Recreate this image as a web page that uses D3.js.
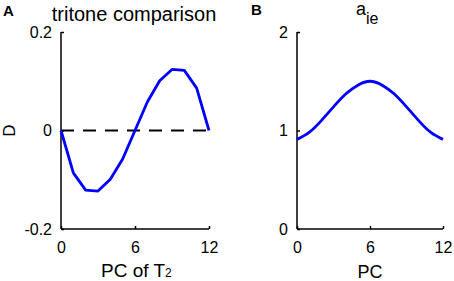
<!DOCTYPE html>
<html>
<head>
<meta charset="utf-8">
<script src="https://cdn.jsdelivr.net/npm/d3@7"></script>
<style>
  body { margin: 0; background: #fff; }
  svg { display: block; font-family: "Liberation Sans", Arial, sans-serif; }
  .axis path, .axis line { stroke: #000; stroke-width: 1.5; }
</style>
</head>
<body>
<div id="chart"></div>
<script>
// data
var pcSteps = [0, 1, 2, 3, 4, 5, 6, 7, 8, 9, 10, 11, 12];
var tritoneD = [0, -0.086, -0.121, -0.123, -0.099, -0.058, 0, 0.058, 0.101, 0.124, 0.122, 0.086, 0];
var aie = [0.91, 0.98, 1.10, 1.24, 1.37, 1.46, 1.5, 1.46, 1.37, 1.24, 1.10, 0.98, 0.91];
var xTicks = [0, 6, 12];
var yTicksA = [-0.2, 0, 0.2];
var yTicksB = [0, 1, 2];

var width = 454, height = 281;
var tickFont = "16px";

var svg = d3.select("#chart")
    .append("svg")
    .attr("width", width)
    .attr("height", height);

function styleAxis(g) {
    g.selectAll("text")
        .style("font-size", tickFont)
        .style("font-family", "Liberation Sans, Arial, sans-serif")
        .attr("fill", "#000");
}

// ---- panel A ----
var xA = d3.scaleLinear().domain([0, 12]).range([61, 209]);
var yA = d3.scaleLinear().domain([-0.2, 0.2]).range([229, 32]);

svg.append("g")
    .attr("class", "axis")
    .attr("transform", "translate(0,229)")
    .call(d3.axisBottom(xA).tickValues(xTicks).tickSizeInner(-3).tickSizeOuter(0).tickPadding(13))
    .call(g => g.select(".domain").attr("d", "M" + xA(0) + ",0H" + xA(12)))
    .call(styleAxis);

svg.append("g")
    .attr("class", "axis")
    .attr("transform", "translate(61,0)")
    .call(d3.axisLeft(yA).tickValues(yTicksA).tickSizeInner(-3).tickSizeOuter(0).tickPadding(9)
        .tickFormat(d => String(d)))
    .call(g => g.select(".domain").attr("d", "M0," + yA(-0.2) + "V" + yA(0.2)))
    .call(styleAxis);

// zero reference line
svg.append("line")
    .attr("x1", xA(0)).attr("x2", xA(12))
    .attr("y1", yA(0)).attr("y2", yA(0))
    .attr("stroke", "#000")
    .attr("stroke-width", 2)
    .attr("stroke-dasharray", "13,9");

svg.append("path")
    .datum(pcSteps)
    .attr("fill", "none")
    .attr("stroke", "#0000ff")
    .attr("stroke-width", 2.8)
    .attr("stroke-linejoin", "round")
    .attr("d", d3.line()
        .x(function (d, i) { return xA(d); })
        .y(function (d, i) { return yA(tritoneD[i]); }));

svg.append("text")
    .attr("x", 3).attr("y", 16)
    .style("font-size", "15px").style("font-weight", "bold")
    .text("A");

svg.append("text")
    .attr("x", 134).attr("y", 21)
    .attr("text-anchor", "middle")
    .style("font-size", "20px")
    .text("tritone comparison");

svg.append("text")
    .attr("transform", "translate(15," + yA(0) + ") rotate(-90)")
    .attr("text-anchor", "middle")
    .style("font-size", "17px")
    .text("D");

var xlabA = svg.append("text")
    .attr("x", 101).attr("y", 277)
    .style("font-size", "19px")
    .text("PC of T");
xlabA.append("tspan")
    .style("font-size", "12px")
    .text("2");

// ---- panel B ----
var xB = d3.scaleLinear().domain([0, 12]).range([297, 443]);
var yB = d3.scaleLinear().domain([0, 2]).range([229, 32]);

svg.append("g")
    .attr("class", "axis")
    .attr("transform", "translate(0,229)")
    .call(d3.axisBottom(xB).tickValues(xTicks).tickSizeInner(-3).tickSizeOuter(0).tickPadding(13))
    .call(g => g.select(".domain").attr("d", "M" + xB(0) + ",0H" + xB(12)))
    .call(styleAxis);

svg.append("g")
    .attr("class", "axis")
    .attr("transform", "translate(297,0)")
    .call(d3.axisLeft(yB).tickValues(yTicksB).tickSizeInner(-3).tickSizeOuter(0).tickPadding(9)
        .tickFormat(d => String(d)))
    .call(g => g.select(".domain").attr("d", "M0," + yB(0) + "V" + yB(2)))
    .call(styleAxis);

svg.append("path")
    .datum(pcSteps)
    .attr("fill", "none")
    .attr("stroke", "#0000ff")
    .attr("stroke-width", 2.8)
    .attr("d", d3.line()
        .curve(d3.curveNatural)
        .x(function (d, i) { return xB(d); })
        .y(function (d, i) { return yB(aie[i]); }));

svg.append("text")
    .attr("x", 251).attr("y", 15)
    .style("font-size", "15px").style("font-weight", "bold")
    .text("B");

var titleB = svg.append("text")
    .attr("x", 356).attr("y", 15)
    .style("font-size", "18px")
    .text("a");
titleB.append("tspan")
    .attr("dy", 9)
    .style("font-size", "16px")
    .text("ie");

svg.append("text")
    .attr("x", 370).attr("y", 278)
    .attr("text-anchor", "middle")
    .style("font-size", "18px")
    .text("PC");
</script>
</body>
</html>
